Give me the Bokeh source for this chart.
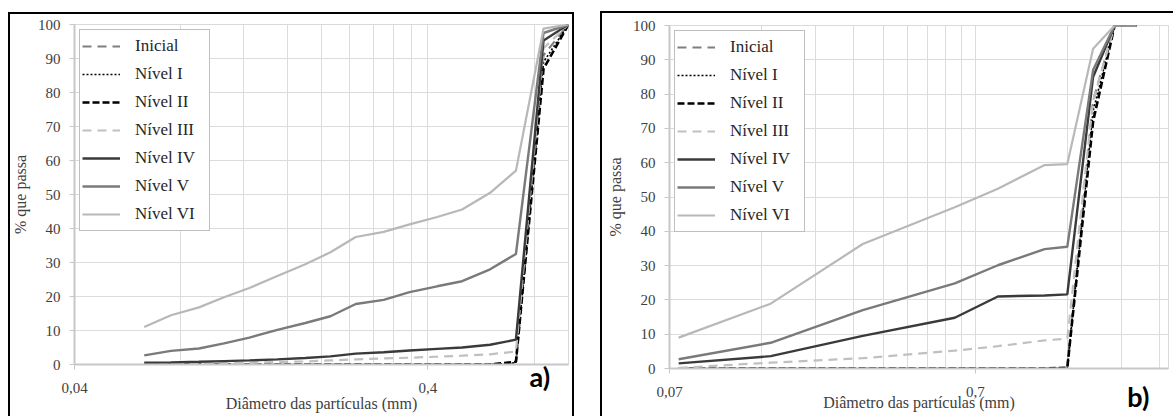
from bokeh.plotting import figure
from bokeh.models import (FixedTicker, CustomJSTickFormatter, Legend, LegendItem, LogAxis)
from bokeh.embed import file_html
from bokeh.resources import INLINE

# ---------------- data ----------------
series_names = ["Inicial", "Nível I", "Nível II", "Nível III", "Nível IV", "Nível V", "Nível VI"]

# panel a) sieve openings (mm)
diam_a = [0.063, 0.075, 0.09, 0.106, 0.125, 0.15, 0.18, 0.212, 0.25, 0.3, 0.355,
          0.425, 0.5, 0.6, 0.71, 0.85, 1.0]
inicial_a = [0, 0, 0, 0, 0, 0, 0, 0, 0, 0, 0, 0, 0, 0, 0.3, 91, 100]
nivel1_a = [0, 0, 0, 0, 0, 0, 0, 0, 0, 0, 0, 0, 0, 0, 0.5, 89, 100]
nivel2_a = [0, 0, 0, 0, 0, 0, 0, 0, 0, 0, 0, 0, 0, 0, 0.8, 87, 100]
nivel3_a = [0.1, 0.2, 0.3, 0.4, 0.5, 0.7, 0.9, 1.2, 1.5, 1.8, 2.0, 2.3, 2.6, 3.0, 3.8, 93, 100]
nivel4_a = [0.5, 0.6, 0.8, 1.0, 1.2, 1.5, 1.9, 2.4, 3.2, 3.6, 4.1, 4.6, 5.0, 5.8, 7.3, 95.3, 100]
nivel5_a = [2.7, 4.0, 4.7, 6.2, 7.9, 10.2, 12.2, 14.2, 17.8, 19.0, 21.3, 23.0, 24.5, 28.0, 32.5, 97.5, 100]
nivel6_a = [11.0, 14.5, 16.8, 19.8, 22.5, 26.0, 29.5, 33.0, 37.5, 39.0, 41.2, 43.4, 45.6, 50.5, 57.0, 98.8, 100]

# panel b) sieve openings (mm)
diam_b = [0.075, 0.15, 0.3, 0.6, 0.83, 1.18, 1.4, 1.7, 2.0, 2.36]
inicial_b = [0, 0, 0, 0, 0, 0, 0.1, 78, 100, 100]
nivel1_b = [0, 0, 0, 0, 0, 0, 0.1, 75, 100, 100]
nivel2_b = [0, 0, 0, 0, 0, 0, 0.2, 72, 100, 100]
nivel3_b = [0.2, 1.7, 3.0, 5.2, 6.5, 8.2, 8.7, 78, 100, 100]
nivel4_b = [1.5, 3.6, 9.5, 14.8, 21.0, 21.3, 21.6, 85, 100, 100]
nivel5_b = [2.7, 7.5, 17.0, 24.8, 30.1, 34.8, 35.5, 87, 100, 100]
nivel6_b = [9.0, 18.9, 36.3, 47.0, 52.4, 59.3, 59.6, 93.2, 100, 100]

y_ticks = [0, 10, 20, 30, 40, 50, 60, 70, 80, 90, 100]
x_ticks_a = [0.04, 0.4, 4.0]
x_ticks_b = [0.07, 0.7, 7.0]
x_title = "Diâmetro das partículas (mm)"
y_title = "% que passa"

# ---------------- styles ----------------
styles = [
    dict(line_color="#7f7f7f", line_width=2.2, line_dash="9 6"),
    dict(line_color="#000000", line_width=1.6, line_dash="2 2"),
    dict(line_color="#000000", line_width=2.6, line_dash="7 3"),
    dict(line_color="#c0c0c0", line_width=2.2, line_dash="9 6"),
    dict(line_color="#3a3a3a", line_width=2.4),
    dict(line_color="#7a7a7a", line_width=2.4),
    dict(line_color="#b8b8b8", line_width=2.2),
]

SERIF = "Liberation Serif"
TXT = "#404040"


def tag_axis(x_pos, tag, tag_standoff, title_standoff):
    """Second bottom axis without line or ticks: carries the panel tag and the x title."""
    ax = LogAxis(ticker=FixedTicker(ticks=[x_pos], minor_ticks=[]),
                 formatter=CustomJSTickFormatter(code="return %r;" % tag))
    ax.axis_line_color = None
    ax.major_tick_line_color = None
    ax.minor_tick_line_color = None
    ax.major_tick_out = 0
    ax.major_tick_in = 0
    ax.major_label_standoff = tag_standoff
    ax.major_label_text_font = "Lato"
    ax.major_label_text_font_size = "27px"
    ax.major_label_text_font_style = "bold"
    ax.major_label_text_color = "#000000"
    ax.axis_label = x_title
    ax.axis_label_standoff = title_standoff
    ax.axis_label_text_font = SERIF
    ax.axis_label_text_font_size = "16px"
    ax.axis_label_text_font_style = "normal"
    ax.axis_label_text_color = TXT
    return ax


def make_panel(diam, series, x_range, major, width, height, css, mb,
               tick_standoff, tag, tag_x, tag_standoff, title_standoff):
    p = figure(width=width, height=height, x_axis_type="log", x_range=x_range, y_range=(0, 100),
               output_backend="svg", toolbar_location=None,
               min_border_left=mb[0], min_border_right=mb[1],
               min_border_top=mb[2], min_border_bottom=mb[3],
               styles=css)
    p.background_fill_color = "white"
    p.border_fill_color = None
    p.outline_line_color = "#d9d9d9"
    p.outline_line_width = 1

    minors = []
    for m in major[:-1]:
        for k in range(2, 10):
            minors.append(m * k)
    p.xaxis.ticker = FixedTicker(ticks=major, minor_ticks=minors)
    p.yaxis.ticker = FixedTicker(ticks=y_ticks)
    p.xaxis.formatter = CustomJSTickFormatter(
        code="var s = Number(tick.toPrecision(6)).toString(); return s.replace('.', ',');")

    for ax in (p.xaxis[0], p.yaxis[0]):
        ax.axis_line_color = "#c8c8c8"
        ax.axis_line_width = 2
        ax.major_tick_line_color = "#c8c8c8"
        ax.major_tick_out = 5
        ax.major_tick_in = 0
        ax.minor_tick_line_color = None
        ax.major_label_text_font = SERIF
        ax.major_label_text_font_size = "15px"
        ax.major_label_text_color = TXT
        ax.major_label_standoff = 9
    p.xaxis.major_label_standoff = tick_standoff
    p.yaxis.axis_label = y_title
    p.yaxis.axis_label_text_font = SERIF
    p.yaxis.axis_label_text_font_style = "normal"
    p.yaxis.axis_label_text_font_size = "16px"
    p.yaxis.axis_label_text_color = TXT
    p.yaxis.axis_label_standoff = 6

    p.xgrid.grid_line_color = "#dcdcdc"
    p.xgrid.minor_grid_line_color = "#dcdcdc"
    p.ygrid.grid_line_color = "#dcdcdc"

    items = []
    for name, ys, st in zip(series_names, series, styles):
        r = p.line(diam, ys, **st)
        items.append(LegendItem(label=name, renderers=[r]))

    leg = Legend(items=items, location="top_left", margin=5, padding=2, spacing=0,
                 glyph_width=38, glyph_height=28, label_height=28, label_width=72,
                 label_standoff=15,
                 label_text_font=SERIF, label_text_font_size="17px", label_text_color="#262626",
                 border_line_color="#7f7f7f", border_line_width=1.2,
                 background_fill_color="white", background_fill_alpha=1)
    p.add_layout(leg, "center")

    p.add_layout(tag_axis(tag_x, tag, tag_standoff, title_standoff), "below")
    return p


css_a = {"position": "absolute", "left": "8px", "top": "12px",
         "box-shadow": "inset 2px 2px 0 0 #000000, inset -2px 0 0 0 #000000"}
css_b = {"position": "absolute", "left": "600px", "top": "11px",
         "box-shadow": "inset 2px 2px 0 0 #000000"}

p1 = make_panel(diam_a, [inicial_a, nivel1_a, nivel2_a, nivel3_a, nivel4_a, nivel5_a, nivel6_a],
                (0.04, 1.0), x_ticks_a, 566, 404, css_a, (66, 6, 12, 52),
                13, "a)", 0.83, -36, -1)
p2 = make_panel(diam_b, [inicial_b, nivel1_b, nivel2_b, nivel3_b, nivel4_b, nivel5_b, nivel6_b],
                (0.07, 3.0), x_ticks_b, 573, 405, css_b, (69, 5, 14, 48),
                13, "b)", 2.39, -20, -22)

open("out.html", "w").write(file_html([p1, p2], INLINE))
